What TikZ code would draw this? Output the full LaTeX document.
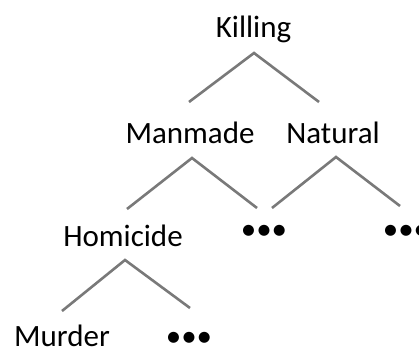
\documentclass[tikz,border=0pt]{standalone}
\usepackage{fontspec}
\setmainfont{Carlito}
\begin{document}
\begin{tikzpicture}[x=1pt,y=-1pt,
  lbl/.style={anchor=base,inner sep=0pt,font=\fontsize{31}{36}\selectfont},
  dots/.style={anchor=center,inner sep=0pt,font=\fontsize{31}{36}\selectfont},
  branch/.style={draw=gray!95!black,line width=2.6pt}]
\useasboundingbox (0,0) rectangle (419,350);
\node[lbl] (killing) at (253.5,38) {Killing};
\node[lbl] (manmade) at (190,143) {Manmade};
\node[lbl] (natural) at (333,143) {Natural};
\node[lbl] (homicide) at (123,246) {Homicide};
\node[lbl] (murder) at (62,346) {Murder};
\node[dots] (d1) at (264,232) {•••};
\node[dots] (d2) at (406,232) {•••};
\node[dots] (d3) at (189,339) {•••};
\coordinate (k0) at (254,53);
\coordinate (k1) at (189,102);
\coordinate (k2) at (319,102);
\coordinate (m0) at (192,158);
\coordinate (m1) at (127,209);
\coordinate (m2) at (257,208);
\coordinate (n0) at (336,157);
\coordinate (n1) at (272,208);
\coordinate (n2) at (400,206);
\coordinate (h0) at (125,260);
\coordinate (h1) at (62,311);
\coordinate (h2) at (190,308);
\draw[branch] (k1) -- (k0) -- (k2);
\draw[branch] (m1) -- (m0) -- (m2);
\draw[branch] (n1) -- (n0) -- (n2);
\draw[branch] (h1) -- (h0) -- (h2);
\end{tikzpicture}
\end{document}
